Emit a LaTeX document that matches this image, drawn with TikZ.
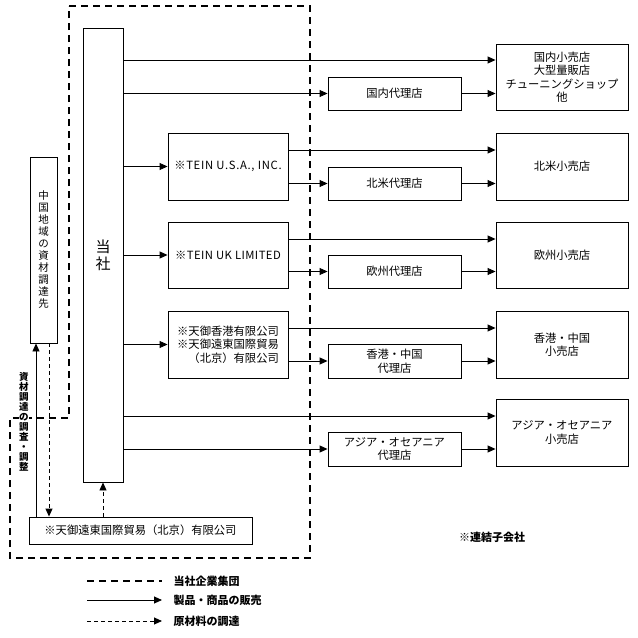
\documentclass[tikz,border=0pt]{standalone}
\usepackage{fontspec}
\setmainfont{Noto Sans CJK JP}
\usetikzlibrary{arrows.meta}
\tikzset{
  box/.style={draw,line width=0.9pt,inner sep=1pt,align=center,font=\fontsize{11.3}{13.5}\selectfont},
  arr/.style={line width=0.9pt,-{Triangle[length=8pt,width=7pt]}},
  darr/.style={line width=0.9pt,dash pattern=on 4pt off 3pt,-{Triangle[length=8pt,width=7pt]}},
  group/.style={line width=1.4pt,dash pattern=on 7pt off 5pt},
  lbl/.style={font=\bfseries\fontsize{11}{13}\selectfont},
}
\newcommand\boxat[7][]{%
  \node[box,#1,minimum width={#5-#3},minimum height={#6-#4}] (#2) at ({(#3+#5)/2},{(#4+#6)/2}) {#7};}
\begin{document}
\begin{tikzpicture}[x=1pt,y=-1pt]
\useasboundingbox (0,0) rectangle (638,638);
% group outline
\draw[group] (69,6) -- (310,6) -- (310,558) -- (10,558) -- (10,418) -- (69,418) -- cycle;
% boxes
\boxat[font=\fontsize{15}{17}\selectfont]{tosha}{83}{28}{123}{482}{当\\社}
\boxat[font=\fontsize{10.5}{12}\selectfont]{cn}{30}{157}{57}{343}{中\\国\\地\\域\\の\\資\\材\\調\\達\\先}
\boxat{usa}{168}{133}{288}{200}{\addfontfeature{LetterSpace=6}※TEIN U.S.A., INC.}
\boxat{uk}{168}{222}{288}{288}{\addfontfeature{LetterSpace=4}※TEIN UK LIMITED}
\node[box,minimum width=120,minimum height=67,align=right] (hk) at (228,344.5) {※天御香港有限公司\\※天御遠東国際貿易\\（北京）有限公司};
\boxat{a1}{328}{77}{461}{110}{国内代理店}
\boxat{a2}{328}{167}{461}{200}{北米代理店}
\boxat{a3}{328}{255}{461}{288}{欧州代理店}
\boxat{a4}{328}{344}{461}{378}{香港・中国\\代理店}
\boxat{a5}{328}{432}{461}{466}{アジア・オセアニア\\代理店}
\boxat{r1}{496}{44}{628}{110}{国内小売店\\大型量販店\\チューニングショップ\\他}
\boxat{r2}{496}{133}{628}{200}{北米小売店}
\boxat{r3}{496}{222}{628}{288}{欧州小売店}
\boxat{r4}{496}{311}{628}{378}{香港・中国\\小売店}
\boxat{r5}{496}{399}{628}{466}{アジア・オセアニア\\小売店}
\boxat{bj}{29}{517}{252}{544}{※天御遠東国際貿易（北京）有限公司}
% sales arrows
\draw[arr] (tosha.east |- 0,60) -- (r1.west |- 0,60);
\draw[arr] (tosha.east |- a1.west) -- (a1.west);
\draw[arr] (a1.east) -- (r1.west |- a1.east);
\draw[arr] (tosha.east |- usa.west) -- (usa.west);
\draw[arr] (usa.east |- 0,150) -- (r2.west |- 0,150);
\draw[arr] (usa.east |- a2.west) -- (a2.west);
\draw[arr] (a2.east) -- (r2.west |- a2.east);
\draw[arr] (tosha.east |- uk.west) -- (uk.west);
\draw[arr] (uk.east |- 0,239) -- (r3.west |- 0,239);
\draw[arr] (uk.east |- a3.west) -- (a3.west);
\draw[arr] (a3.east) -- (r3.west |- a3.east);
\draw[arr] (tosha.east |- hk.west) -- (hk.west);
\draw[arr] (hk.east |- 0,328) -- (r4.west |- 0,328);
\draw[arr] (hk.east |- a4.west) -- (a4.west);
\draw[arr] (a4.east) -- (r4.west |- a4.east);
\draw[arr] (tosha.east |- 0,416) -- (r5.west |- 0,416);
\draw[arr] (tosha.east |- a5.west) -- (a5.west);
\draw[arr] (a5.east) -- (r5.west |- a5.east);
% procurement
\draw[arr] (bj.north -| 36,0) -- (cn.south -| 36,0);
\draw[darr] (cn.south -| 49,0) -- (bj.north -| 49,0);
\draw[darr] (bj.north -| 103,0) -- (tosha.south -| 103,0);
\node[fill=white,inner sep=0.5pt,align=center,font=\bfseries\fontsize{9.5}{10}\selectfont] (lab) at (24,422) {資\\材\\調\\達\\の\\調\\査\\・\\調\\整};
% footnote
\node[lbl] (note) at (492,537) {※連結子会社};
% legend
\coordinate (l1a) at (87,581); \coordinate (l1b) at (162,581);
\coordinate (l2a) at (87,600); \coordinate (l2b) at (162,600);
\coordinate (l3a) at (87,621); \coordinate (l3b) at (162,621);
\draw[group,line width=1.2pt] (l1a) -- (l1b);
\draw[arr] (l2a) -- (l2b);
\draw[darr] (l3a) -- (l3b);
\node[lbl,anchor=west] (t1) at (170,581) {当社企業集団};
\node[lbl,anchor=west] (t2) at (170,600) {製品・商品の販売};
\node[lbl,anchor=west] (t3) at (170,621) {原材料の調達};
\end{tikzpicture}
\end{document}
